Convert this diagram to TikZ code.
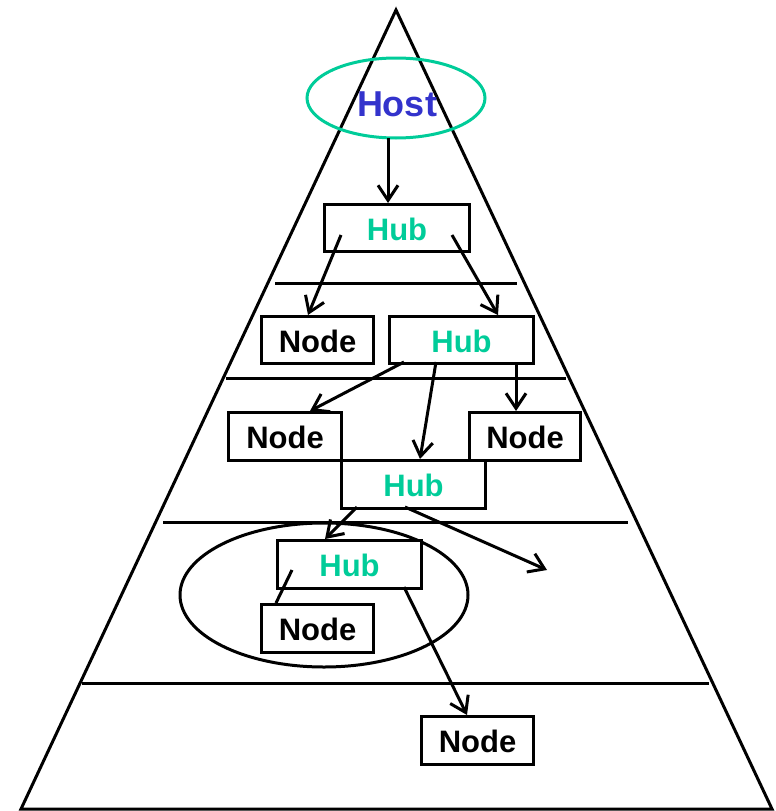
\documentclass[tikz,border=0pt]{standalone}
\usepackage{fontspec}
\setmainfont{Liberation Sans}
\usetikzlibrary{arrows.meta}
\definecolor{hostblue}{RGB}{51,51,204}
\definecolor{hubgreen}{RGB}{0,204,153}
\begin{document}
\begin{tikzpicture}[x=1pt,y=-1pt,line width=3pt,
  box/.style={draw,line width=3pt,fill=white,inner sep=0pt,anchor=north west},
  nodetxt/.style={font=\fontsize{31}{31}\selectfont\bfseries},
  hubtxt/.style={font=\fontsize{31}{31}\selectfont\bfseries,text=hubgreen},
  arr/.style={-{Straight Barb[length=15pt,width=20pt,line width=3pt]}},
  layer/.style={line width=3pt}]
\useasboundingbox (0,0) rectangle (776,811);
% pyramid
\draw[line width=3pt,line join=miter] (396,10) -- (772,809) -- (21,809) -- cycle;
\draw[layer] (275,283) -- (517,283);
\draw[layer] (226,378) -- (566,378);
\draw[layer] (163,522) -- (628,522);
\draw[layer] (82,683) -- (709,683);
% host
\draw[hubgreen,line width=3pt] (396,98) ellipse [x radius=89, y radius=40];
\node[font=\fontsize{36}{36}\selectfont\bfseries,text=hostblue] (host) at (397,104) {Host};
% big ellipse
\draw[line width=3pt] (324,595) ellipse [x radius=144, y radius=72];
% boxes
\node[box,minimum width=145,minimum height=47] (hub1) at (323,203) {};
\node[hubtxt] at ([yshift=-1]hub1.center) {Hub};
\node[box,minimum width=112,minimum height=47] (node1) at (260,315) {};
\node[nodetxt] at ([yshift=-1]node1.center) {Node};
\node[box,minimum width=144,minimum height=47] (hub2) at (388,315) {};
\node[hubtxt] at ([yshift=-1]hub2.center) {Hub};
\node[box,minimum width=113,minimum height=48] (node2) at (227,411) {};
\node[nodetxt] at ([yshift=-1]node2.center) {Node};
\node[box,minimum width=111,minimum height=48] (node3) at (468,411) {};
\node[nodetxt] at ([yshift=-1]node3.center) {Node};
\node[box,minimum width=144,minimum height=48] (hub3) at (340,459) {};
\node[hubtxt] at ([yshift=-1]hub3.center) {Hub};
\node[box,minimum width=144,minimum height=48] (hub4) at (276,539) {};
\node[hubtxt] at ([yshift=-1]hub4.center) {Hub};
\node[box,minimum width=112,minimum height=48] (node4) at (260,603) {};
\node[nodetxt] at ([yshift=-1]node4.center) {Node};
\node[box,minimum width=112,minimum height=48] (node5) at (420,715) {};
\node[nodetxt] at ([yshift=-1]node5.center) {Node};
% connector end points
\coordinate (h0) at (388,138);
\coordinate (h1a) at (341,235);
\coordinate (h1b) at (452,235);
\coordinate (h2a) at (404,362);
\coordinate (h2b) at (436,362);
\coordinate (h2c) at (516,362);
\coordinate (h3a) at (357,507);
\coordinate (h3b) at (405,507);
\coordinate (free) at (547,570);
\coordinate (h4a) at (292,570);
\coordinate (h4b) at (404,587);
% connectors
\draw[arr] (h0) -- (388,203);
\draw[arr] (h1a) -- (308,315);
\draw[arr] (h1b) -- (498,315);
\draw[arr] (h2a) -- (310,411);
\draw[arr] (h2b) -- (420,459);
\draw[arr] (h2c) -- (516,411);
\draw[arr] (h3a) -- (325,539);
\draw[arr] (h3b) -- (free);
\draw (h4a) -- (276,603);
\draw[arr] (h4b) -- (467,715);
\end{tikzpicture}
\end{document}
